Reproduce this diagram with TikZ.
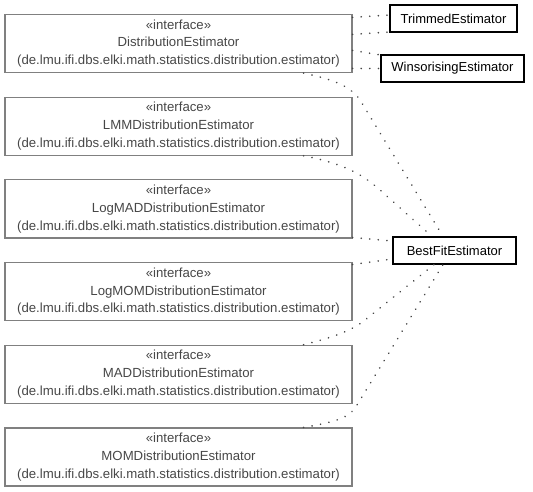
\documentclass[tikz,border=0pt]{standalone}
\usepackage{fontspec}
\setmainfont{Liberation Sans}
\begin{document}
\begin{tikzpicture}[x=1pt,y=-1pt,
  iface/.style={draw=black!50, line width=1.2pt, minimum width=347pt, minimum height=58pt,
    inner sep=0pt, align=center, text=black!72, font=\fontsize{13.2}{17.8}\selectfont},
  cls/.style={draw=black, line width=1.2pt, minimum height=27pt, inner sep=0pt,
    text=black, font=\fontsize{13}{15}\selectfont},
  dep/.style={draw=black!72, line width=1.8pt, line cap=round, dash pattern=on 0.01pt off 8.6pt}]
\useasboundingbox (0,0) rectangle (533,492);

\node[iface] (d1) at (178.5,43.5) {«interface»\\DistributionEstimator\\(de.lmu.ifi.dbs.elki.math.statistics.distribution.estimator)};
\node[iface] (d2) at (178.5,126.2) {«interface»\\LMMDistributionEstimator\\(de.lmu.ifi.dbs.elki.math.statistics.distribution.estimator)};
\node[iface] (d3) at (178.5,208.9) {«interface»\\LogMADDistributionEstimator\\(de.lmu.ifi.dbs.elki.math.statistics.distribution.estimator)};
\node[iface] (d4) at (178.5,291.6) {«interface»\\LogMOMDistributionEstimator\\(de.lmu.ifi.dbs.elki.math.statistics.distribution.estimator)};
\node[iface] (d5) at (178.5,374.3) {«interface»\\MADDistributionEstimator\\(de.lmu.ifi.dbs.elki.math.statistics.distribution.estimator)};
\node[iface] (d6) at (178.5,457) {«interface»\\MOMDistributionEstimator\\(de.lmu.ifi.dbs.elki.math.statistics.distribution.estimator)};

\node[cls, minimum width=127pt] (t) at (453.5,18.5) {TrimmedEstimator};
\node[cls, minimum width=143pt] (w) at (452.5,68.5) {WinsorisingEstimator};
\node[cls, minimum width=123pt] (b) at (454.5,250.5) {BestFitEstimator};

\draw[dep] ([yshift=-3.5pt]d1.north east) -- ([yshift=3.5pt]t.west);
\draw[dep] ([yshift=-20.5pt]d1.north east) -- ([yshift=-13.5pt]t.west);
\draw[dep] ([yshift=-36.5pt]d1.north east) -- ([yshift=13.5pt]w.west);
\draw[dep] ([yshift=-54.5pt]d1.north east) -- (w.west);

\draw[dep] ([xshift=-49pt]d1.south east) .. controls (335,80) and (350,86) .. (360,100) -- ([xshift=-11.5pt]b.north);
\draw[dep] ([xshift=-49pt]d2.south east) .. controls (340,163) and (360,172) .. (380,190) -- ([xshift=-22.5pt]b.north);
\draw[dep] ([yshift=1pt]d3.south east) -- ([yshift=9.5pt]b.west);
\draw[dep] ([yshift=-2.5pt]d4.north east) -- ([yshift=-8.5pt]b.west);
\draw[dep] ([xshift=-49pt]d5.north east) .. controls (330,338) and (350,332) .. (365,320) -- ([xshift=-20.5pt]b.south);
\draw[dep] ([xshift=-49pt]d6.north east) .. controls (335,422) and (350,418) .. (357,405) -- ([xshift=-11.5pt]b.south);
\end{tikzpicture}
\end{document}
